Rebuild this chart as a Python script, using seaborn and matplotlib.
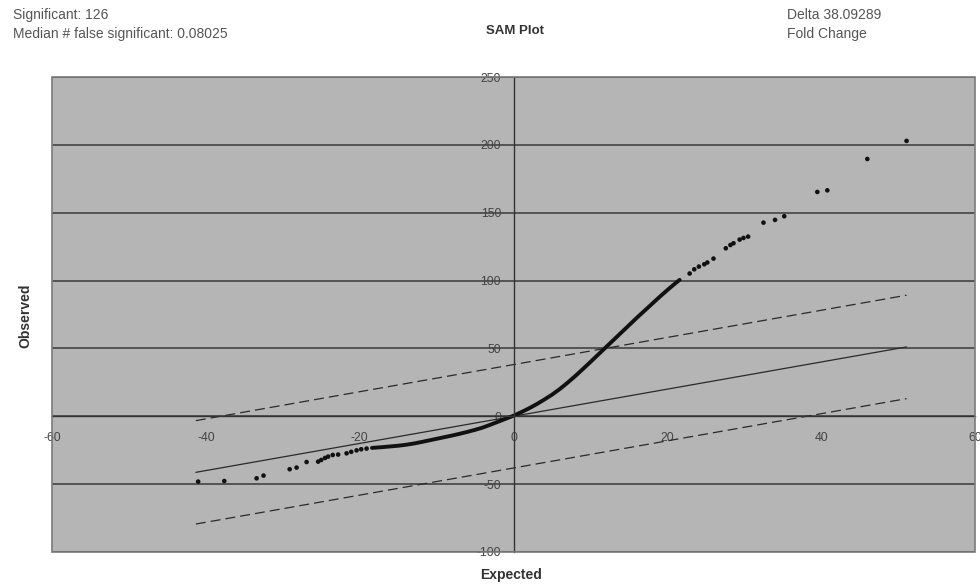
import seaborn as sns
import matplotlib.pyplot as plt
from matplotlib.patches import Rectangle

# header values
significant = 126
median_false = 0.08025
delta = 38.09289

# isolated genes
expected_sparse = [-41.0, -37.6, -33.4, -32.5, -29.1, -28.2, -26.9, -25.4, -25.0, -24.5,
                   -24.1, -23.5, -22.8, -21.7, -21.1, -20.4, -19.8, -19.1,
                   22.9, 23.5, 24.1, 24.8, 25.2, 26.0, 27.6, 28.2, 28.6, 29.4, 29.9,
                   30.5, 32.5, 34.0, 35.2, 39.5, 40.8, 46.0, 51.1]
observed_sparse = [-48.1, -47.7, -45.7, -43.7, -39.0, -37.8, -33.7, -33.4, -32.2, -30.7,
                   -29.7, -28.5, -28.2, -27.3, -26.2, -25.1, -24.3, -23.8,
                   105.2, 108.3, 110.3, 112.0, 113.3, 116.2, 123.8, 126.2, 127.5, 130.2, 131.4,
                   132.4, 142.7, 144.7, 147.4, 165.3, 166.5, 189.6, 202.9]

# dense run of genes around the origin
expected_dense = [-18.4, -17, -16, -15, -14, -13, -12, -11, -10, -9,
                  -8, -7, -6, -5, -4, -3, -2, -1, 0,
                  1, 2, 3, 4, 5, 6, 7, 8, 9, 10,
                  11, 12, 13, 14, 15, 16, 17, 18, 19, 20, 21, 21.6]
observed_dense = [-23.3, -22.7, -22.2, -21.7, -21.0, -20.1, -19.0, -17.8, -16.6, -15.4,
                  -14.2, -12.9, -11.5, -10.0, -8.3, -6.2, -4.0, -1.8, 0.4,
                  3.0, 5.8, 8.9, 12.3, 15.9, 20.0, 24.6, 29.5, 34.7, 40.0,
                  45.4, 50.8, 56.2, 61.6, 67.0, 72.4, 77.6, 82.8, 88.0, 93.0, 97.8, 100.5]

# reference line and the +/- delta band
ref_x = [-41.3, 51.1]
ref_y = [-41.3, 51.1]
upper_y = [-3.2, 89.2]
lower_y = [-79.4, 13.0]

x_ticks = [-60, -40, -20, 0, 20, 40, 60]
y_ticks = [-100, -50, 0, 50, 100, 150, 200, 250]

sns.set_style("white")
plt.rcParams['font.family'] = ['Liberation Sans', 'DejaVu Sans']
plt.rcParams['axes.unicode_minus'] = False

fig = plt.figure(figsize=(9.8, 5.85), dpi=100)
ax = fig.add_axes([52 / 980, 1 - 552 / 585, (975 - 52) / 980, (552 - 77) / 585])
ax.set_facecolor('#b5b5b5')

sns.lineplot(x=ref_x, y=ref_y, color='#2a2a2a', lw=0.9, estimator=None, ax=ax)
sns.lineplot(x=ref_x, y=upper_y, color='#2a2a2a', lw=0.9, ls=(0, (8, 4)), estimator=None, ax=ax)
sns.lineplot(x=ref_x, y=lower_y, color='#2a2a2a', lw=0.9, ls=(0, (8, 4)), estimator=None, ax=ax)
sns.lineplot(x=expected_dense, y=observed_dense, color='#111111', lw=2.8, sort=False,
             estimator=None, ax=ax)
sns.scatterplot(x=expected_sparse, y=observed_sparse, color='#111111', s=11,
                edgecolor='none', ax=ax)

ax.set_xlim(-60, 60)
ax.set_ylim(-100, 250)
ax.set_xticks(x_ticks)
ax.set_yticks(y_ticks)
ax.yaxis.grid(True, color='#3a3a3a', lw=1.1)
ax.set_axisbelow(True)

ax.spines['left'].set_position(('data', 0))
ax.spines['bottom'].set_position(('data', 0))
for s in ['left', 'bottom']:
    ax.spines[s].set_color('#333333')
    ax.spines[s].set_linewidth(1.0)
for s in ['top', 'right']:
    ax.spines[s].set_visible(False)
ax.add_patch(Rectangle((0, 0), 1, 1, transform=ax.transAxes, fill=False,
                       edgecolor='#7a7a7a', lw=1.2, clip_on=False, zorder=5))

ax.tick_params(direction='out', length=4, width=0.8, color='#333333',
               labelsize=8.8, labelcolor='#444444')
ax.tick_params(axis='x', pad=7)
ax.tick_params(axis='y', pad=5)

head = dict(va='center', fontsize=10, color='#555555')
fig.text(13 / 980, 1 - 15 / 585, f"Significant: {significant}", **head)
fig.text(13 / 980, 1 - 34 / 585, f"Median # false significant: {median_false}", **head)
fig.text(787 / 980, 1 - 15 / 585, f"Delta {delta}", **head)
fig.text(787 / 980, 1 - 34 / 585, "Fold Change", **head)
fig.text(515 / 980, 1 - 31 / 585, "SAM Plot", ha='center', va='center',
         fontsize=9.5, fontweight='bold', color='#333333')
fig.text(25 / 980, 1 - 316 / 585, "Observed", rotation=90, ha='center', va='center',
         fontsize=10, fontweight='bold', color='#333333')
fig.text(511 / 980, 1 - 575 / 585, "Expected", ha='center', va='center',
         fontsize=10, fontweight='bold', color='#333333')

fig.savefig("out.png", dpi=100)
